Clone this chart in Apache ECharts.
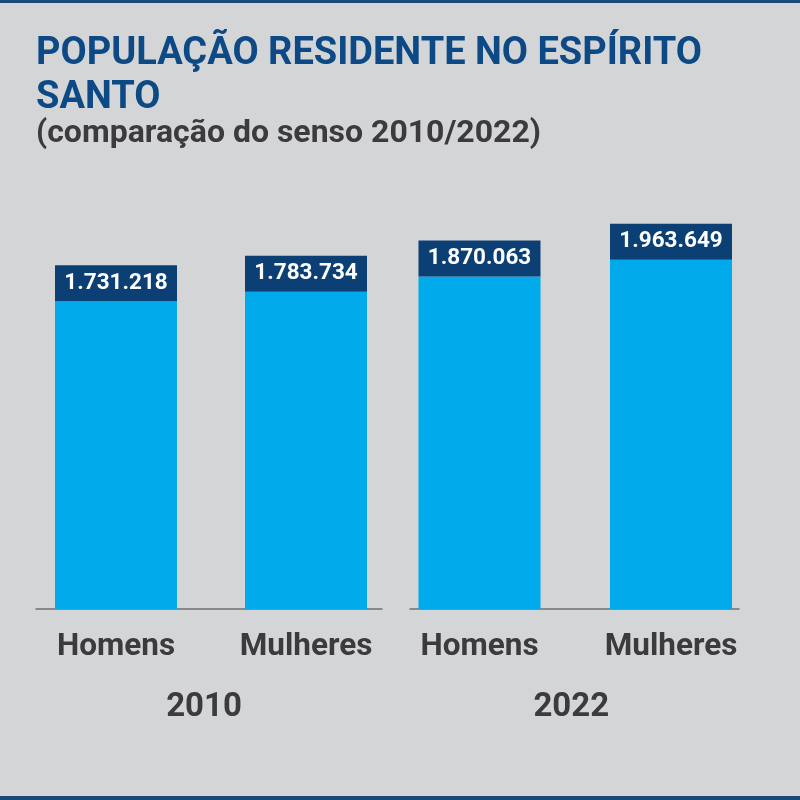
<!DOCTYPE html>
<html>
<head>
<meta charset="utf-8">
<script src="https://cdn.jsdelivr.net/npm/echarts@6/dist/echarts.min.js"></script>
<style>
  html, body { margin: 0; padding: 0; background: #d4d5d7; }
  #chart { width: 800px; height: 800px; }
</style>
</head>
<body>
<div id="chart"></div>
<script>
// dados
const categorias = ['Homens', 'Mulheres'];
const anos = ['2010', '2022'];
const pop2010 = [1731218, 1783734];
const pop2022 = [1870063, 1963649];

const AZUL_BARRA = '#00aaeb';
const AZUL_ESCURO = '#0c3f73';
const CINZA_TEXTO = '#3b3b3d';
const FONTE = 'Roboto';

function formatarNumero(v) {
  return String(v).replace(/\B(?=(\d{3})+(?!\d))/g, '.');
}

const chart = echarts.init(document.getElementById('chart'));

function barraSerie(idx, dados) {
  return {
    type: 'bar',
    xAxisIndex: idx,
    yAxisIndex: idx,
    data: dados,
    barWidth: 122,
    itemStyle: { color: AZUL_BARRA },
    label: {
      show: true,
      position: 'top',
      distance: 0,
      formatter: p => formatarNumero(p.value),
      color: '#fff',
      fontFamily: FONTE,
      fontWeight: 'bold',
      fontSize: 22.5,
      backgroundColor: AZUL_ESCURO,
      width: 122,
      height: 36,
      lineHeight: 36,
      align: 'center',
      padding: 0
    },
    silent: true
  };
}

const rotuloCategoria = {
  margin: 22,
  color: CINZA_TEXTO,
  fontFamily: FONTE,
  fontWeight: 'bold',
  fontSize: 31.5,
  lineHeight: 32
};

const option = {
  backgroundColor: '#d4d5d7',
  animation: false,
  title: [
    {
      text: 'POPULAÇÃO RESIDENTE NO ESPÍRITO\nSANTO',
      left: 36,
      top: 32,
      textStyle: {
        color: '#0d4a85',
        fontFamily: FONTE,
        fontWeight: 'bold',
        fontSize: 38,
        lineHeight: 44
      },
      padding: 0
    },
    {
      text: '(comparação do senso 2010/2022)',
      left: 36,
      top: 117,
      textStyle: {
        color: CINZA_TEXTO,
        fontFamily: FONTE,
        fontWeight: 'bold',
        fontSize: 32,
        lineHeight: 34
      },
      padding: 0
    }
  ],
  graphic: [
    { type: 'rect', shape: { x: 0, y: 0, width: 800, height: 3 }, style: { fill: '#1a4a7a' } },
    { type: 'rect', shape: { x: 0, y: 796, width: 800, height: 4 }, style: { fill: '#1a4a7a' } }
  ],
  grid: [
    { left: 21, width: 380, top: 164.5, bottom: 191 },
    { left: 383.75, width: 383, top: 164.5, bottom: 191 },
    // linhas de base
    { left: 36, width: 346, height: 10, bottom: 191 },
    { left: 410, width: 329, height: 10, bottom: 191 }
  ],
  xAxis: [
    {
      type: 'category', gridIndex: 0, data: categorias,
      axisLine: { show: false }, axisTick: { show: false },
      axisLabel: rotuloCategoria
    },
    {
      type: 'category', gridIndex: 1, data: categorias,
      axisLine: { show: false }, axisTick: { show: false },
      axisLabel: rotuloCategoria
    },
    {
      type: 'value', gridIndex: 2, min: 0, max: 1,
      axisLine: { show: true, lineStyle: { color: '#707070', width: 1.5 } },
      axisTick: { show: false }, axisLabel: { show: false }, splitLine: { show: false }
    },
    {
      type: 'value', gridIndex: 3, min: 0, max: 1,
      axisLine: { show: true, lineStyle: { color: '#707070', width: 1.5 } },
      axisTick: { show: false }, axisLabel: { show: false }, splitLine: { show: false }
    },
    {
      type: 'category', gridIndex: 0, data: [anos[0]], position: 'bottom',
      axisLine: { show: false }, axisTick: { show: false },
      axisLabel: { margin: 82, color: CINZA_TEXTO, fontFamily: FONTE, fontWeight: 'bold', fontSize: 33, lineHeight: 33, padding: [0, 14, 0, 0] }
    },
    {
      type: 'category', gridIndex: 1, data: [anos[1]], position: 'bottom',
      axisLine: { show: false }, axisTick: { show: false },
      axisLabel: { margin: 82, color: CINZA_TEXTO, fontFamily: FONTE, fontWeight: 'bold', fontSize: 33, lineHeight: 33, padding: [0, 8, 0, 0] }
    }
  ],
  yAxis: [
    { type: 'value', gridIndex: 0, min: 0, max: 2500000, show: false },
    { type: 'value', gridIndex: 1, min: 0, max: 2500000, show: false },
    { type: 'value', gridIndex: 2, min: 0, max: 1, show: false },
    { type: 'value', gridIndex: 3, min: 0, max: 1, show: false }
  ],
  series: [
    barraSerie(0, pop2010),
    barraSerie(1, pop2022)
  ]
};

chart.setOption(option);
</script>
</body>
</html>
